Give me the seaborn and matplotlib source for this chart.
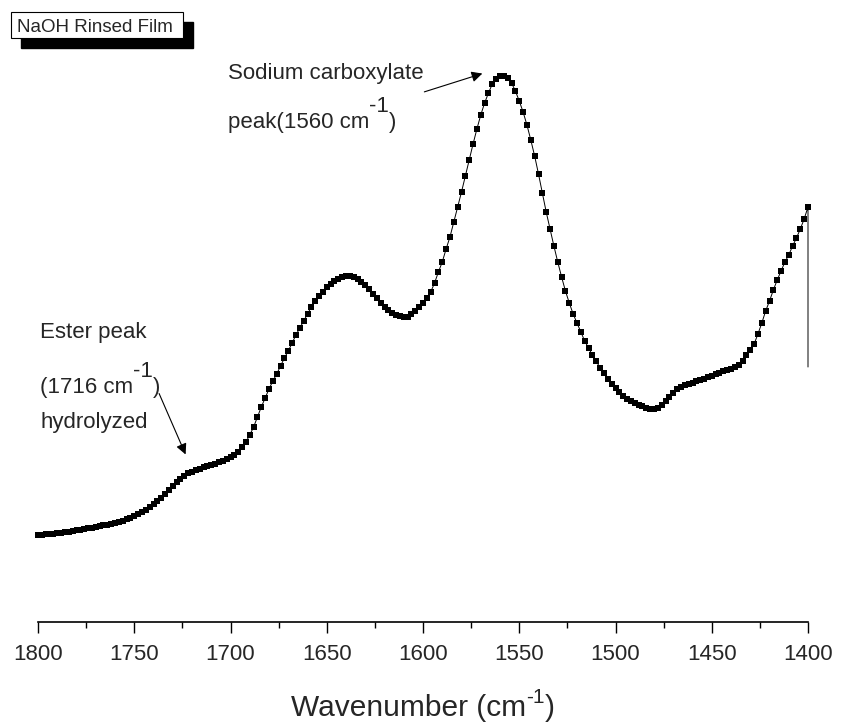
import numpy as np
import pandas as pd
import matplotlib.pyplot as plt
import seaborn as sns
from matplotlib.patches import Rectangle
from matplotlib.ticker import MultipleLocator
from matplotlib.transforms import IdentityTransform

# spectrum, one point every 2 cm-1 from 1800 down to 1400
wavenumber = list(np.arange(1800, 1399, -2)) + [1400]
absorbance = [
    0.065, 0.065, 0.066, 0.066, 0.066, 0.067, 0.067, 0.068, 0.068, 0.069,
    0.070, 0.070, 0.071, 0.072, 0.072, 0.073, 0.074, 0.075, 0.075, 0.076,
    0.077, 0.078, 0.079, 0.081, 0.082, 0.084, 0.086, 0.088, 0.090, 0.093,
    0.096, 0.099, 0.102, 0.106, 0.110, 0.114, 0.118, 0.121, 0.124, 0.127,
    0.128, 0.130, 0.131, 0.133, 0.134, 0.135, 0.136, 0.138, 0.139, 0.141,
    0.143, 0.145, 0.148, 0.153, 0.158, 0.165, 0.173, 0.183, 0.193, 0.202,
    0.211, 0.219, 0.226, 0.234, 0.242, 0.249, 0.257, 0.265, 0.272, 0.279,
    0.286, 0.293, 0.299, 0.304, 0.308, 0.313, 0.316, 0.319, 0.321, 0.323,
    0.324, 0.324, 0.323, 0.321, 0.318, 0.315, 0.311, 0.306, 0.302, 0.297,
    0.293, 0.290, 0.287, 0.285, 0.284, 0.283, 0.283, 0.286, 0.289, 0.293,
    0.297, 0.302, 0.308, 0.317, 0.328, 0.338, 0.351, 0.363, 0.378, 0.393,
    0.408, 0.424, 0.440, 0.456, 0.471, 0.485, 0.497, 0.507, 0.516, 0.521,
    0.524, 0.524, 0.522, 0.517, 0.509, 0.499, 0.488, 0.475, 0.460, 0.444,
    0.426, 0.407, 0.388, 0.371, 0.354, 0.338, 0.323, 0.309, 0.297, 0.286,
    0.277, 0.268, 0.259, 0.252, 0.245, 0.239, 0.232, 0.227, 0.221, 0.216,
    0.212, 0.208, 0.204, 0.201, 0.199, 0.197, 0.195, 0.194, 0.192, 0.191,
    0.191, 0.192, 0.195, 0.199, 0.203, 0.207, 0.211, 0.213, 0.215, 0.216,
    0.217, 0.219, 0.220, 0.221, 0.223, 0.224, 0.226, 0.227, 0.229, 0.230,
    0.231, 0.233, 0.235, 0.239, 0.245, 0.250, 0.256, 0.266, 0.277, 0.289,
    0.299, 0.310, 0.320, 0.329, 0.338, 0.345, 0.354, 0.362, 0.371, 0.381,
    0.393,
    0.233,  # last reading, drawn without a marker
]
major_ticks = [1800, 1750, 1700, 1650, 1600, 1550, 1500, 1450, 1400]
legend_label = "NaOH Rinsed Film"

W, H = 842, 723

sns.set_style("white")
plt.rcParams['font.family'] = ['Liberation Sans', 'DejaVu Sans']

df = pd.DataFrame({'Wavenumber': wavenumber, 'Absorbance': absorbance})

fig = plt.figure(figsize=(W / 100, H / 100), dpi=100)
ax = fig.add_axes([38 / W, (H - 622) / H, 770 / W, 582 / H])

sns.lineplot(data=df, x='Wavenumber', y='Absorbance', ax=ax, sort=False,
             estimator=None, color='black', linewidth=0.7, marker='s',
             markersize=3.9, markeredgewidth=0, markevery=list(range(len(df) - 1)),
             clip_on=False)

ax.set_xlim(1800, 1400)
ax.set_ylim(-0.022, 0.56)
ax.set_xticks(major_ticks)
ax.xaxis.set_minor_locator(MultipleLocator(25))
ax.tick_params(axis='x', which='major', direction='out', length=8, width=1,
               labelsize=16, pad=8, bottom=True, color='black')
ax.tick_params(axis='x', which='minor', direction='out', length=4.5, width=1,
               bottom=True, color='black')
ax.set_yticks([])
ax.set_ylabel('')
ax.set_xlabel('')
for s in ['left', 'top', 'right']:
    ax.spines[s].set_visible(False)
ax.spines['bottom'].set_color('black')
ax.spines['bottom'].set_linewidth(1.2)

# legend box with drop shadow, Origin style
fig.patches.append(Rectangle((20.7 / W, 1 - 48.3 / H), 172.6 / W, 26.6 / H,
                             transform=fig.transFigure, facecolor='black',
                             edgecolor='black', zorder=1))
fig.patches.append(Rectangle((11 / W, 1 - 38.3 / H), 172 / W, 26 / H,
                             transform=fig.transFigure, facecolor='white',
                             edgecolor='black', linewidth=0.8, zorder=2))
fig.text(16.7, H - 32, legend_label, fontsize=13.5, transform=IdentityTransform(),
         va='baseline', zorder=3)


def text_line(x, y, pieces, size=16, center=False):
    # pieces: (text, rise in px, size scale)
    r = fig.canvas.get_renderer()
    arts = []
    for s, rise, k in pieces:
        t = fig.text(x, H - y + rise, s, fontsize=size * k, va='baseline',
                     transform=IdentityTransform())
        arts.append(t)
        x = t.get_window_extent(r).x1
    if center:
        left = arts[0].get_window_extent(r).x0
        shift = (center - (left + x) / 2)
        for t in arts:
            px, py = t.get_position()
            t.set_position((px + shift, py))


text_line(228, 79, [("Sodium carboxylate", 0, 1)])
text_line(228, 128, [("peak(1560 cm", 0, 1), ("-1", 16, 1), (")", 0, 1)])
text_line(40, 338, [("Ester peak", 0, 1)])
text_line(40, 393, [("(1716 cm", 0, 1), ("-1", 16, 1), (")", 0, 1)])
text_line(40, 428, [("hydrolyzed", 0, 1)])

# x-axis title, built the same way so the superscript keeps a plain hyphen
text_line(0, 716, [("Wavenumber (cm", 0, 1), ("-1", 13, 0.7), (")", 0, 1)],
          size=21.5, center=423)

arrow = dict(arrowstyle='-|>', color='black', lw=0.8, mutation_scale=16)
ax.annotate('', xy=(485, H - 72.7), xytext=(421.7, H - 92.7),
            xycoords='figure pixels', textcoords='figure pixels', arrowprops=arrow)
ax.annotate('', xy=(186.7, H - 457), xytext=(158, H - 391),
            xycoords='figure pixels', textcoords='figure pixels', arrowprops=arrow)

fig.savefig('out.png', dpi=100)
